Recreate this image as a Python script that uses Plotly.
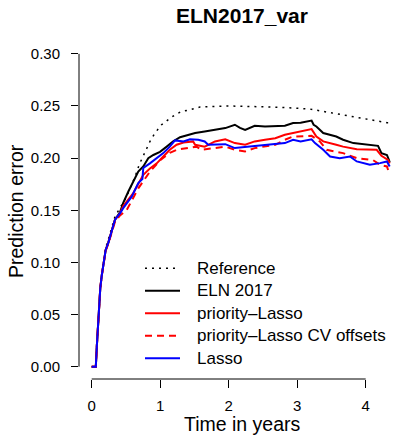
import plotly.graph_objects as go

# ---------------- data ----------------
ref_t = [0, 0.06, 0.075, 0.09, 0.107, 0.125, 0.146, 0.17, 0.204, 0.243, 0.292, 0.34, 0.41,
         0.51, 0.56, 0.632, 0.695, 0.778, 0.851, 0.924, 1.02, 1.12, 1.216, 1.31, 1.435, 1.58,
         1.97, 2.31, 2.8, 3.19, 3.53, 3.92, 4.31, 4.33]
ref_y = [0, 0, 0.02, 0.04, 0.06, 0.075, 0.088, 0.099, 0.114, 0.122, 0.134, 0.144, 0.152,
         0.163, 0.171, 0.182, 0.194, 0.206, 0.216, 0.224, 0.232, 0.237, 0.2415, 0.2447, 0.2463, 0.249,
         0.250, 0.2495, 0.2486, 0.247, 0.243, 0.238, 0.234, 0.234]

eln_t = [0, 0.06, 0.075, 0.09, 0.107, 0.125, 0.146, 0.17, 0.204, 0.243, 0.292, 0.34, 0.413,
         0.46, 0.535, 0.607, 0.68, 0.753, 0.826, 0.9, 0.997, 1.095, 1.19, 1.29, 1.435, 1.51,
         1.65, 1.8, 1.95, 2.09, 2.165, 2.24, 2.38, 2.53, 2.68, 2.82, 2.94, 3.05, 3.21, 3.24,
         3.28, 3.38, 3.57, 3.67, 3.82, 4.01, 4.18, 4.23, 4.31, 4.34, 4.35]
eln_y = [0, 0, 0.02, 0.04, 0.06, 0.075, 0.087, 0.097, 0.112, 0.119, 0.131, 0.141, 0.148,
         0.157, 0.168, 0.178, 0.187, 0.192, 0.200, 0.203, 0.206, 0.211, 0.216, 0.220, 0.2224, 0.224,
         0.2255, 0.227, 0.2288, 0.232, 0.229, 0.227, 0.231, 0.2303, 0.2303, 0.231, 0.2336, 0.234, 0.236, 0.232,
         0.2303, 0.224, 0.2207, 0.2176, 0.2144, 0.2128, 0.2118, 0.2048, 0.203, 0.198, 0.196]

plasso_t = [0, 0.06, 0.075, 0.09, 0.107, 0.125, 0.146, 0.17, 0.204, 0.243, 0.292, 0.34, 0.413,
            0.46, 0.607, 0.68, 0.753, 0.85, 0.95, 1.045, 1.14, 1.24, 1.34, 1.48, 1.51, 1.65,
            1.8, 1.95, 2.09, 2.24, 2.38, 2.53, 2.68, 2.82, 2.94, 3.05, 3.21, 3.28, 3.38, 3.57,
            3.67, 3.87, 4.16, 4.23, 4.33, 4.35]
plasso_y = [0, 0, 0.02, 0.04, 0.06, 0.075, 0.087, 0.097, 0.112, 0.119, 0.131, 0.141, 0.147,
            0.154, 0.1665, 0.176, 0.184, 0.190, 0.195, 0.2016, 0.208, 0.2128, 0.215, 0.216, 0.2128, 0.211,
            0.216, 0.218, 0.2144, 0.2128, 0.216, 0.2176, 0.219, 0.2224, 0.224, 0.225, 0.2278, 0.2207, 0.216, 0.2128,
            0.211, 0.2086, 0.208, 0.2022, 0.198, 0.195]

plcv_t = [0, 0.06, 0.075, 0.09, 0.107, 0.125, 0.146, 0.17, 0.204, 0.243, 0.292, 0.34, 0.413,
          0.51, 0.68, 0.85, 1.0, 1.14, 1.24, 1.39, 1.53, 1.6, 1.8, 1.95, 2.09, 2.24, 2.38,
          2.53, 2.68, 2.82, 2.94, 3.21, 3.33, 3.43, 3.57, 3.67, 3.87, 4.11, 4.21, 4.31, 4.35]
plcv_y = [0, 0, 0.02, 0.04, 0.06, 0.075, 0.087, 0.097, 0.111, 0.118, 0.130, 0.139, 0.145,
          0.150, 0.171, 0.187, 0.198, 0.205, 0.208, 0.2096, 0.211, 0.208, 0.2096, 0.211, 0.208, 0.2064, 0.2096,
          0.211, 0.2128, 0.2176, 0.2207, 0.2214, 0.216, 0.208, 0.2064, 0.2048, 0.200, 0.198, 0.1936, 0.192, 0.184]

lasso_t = [0, 0.06, 0.075, 0.09, 0.107, 0.125, 0.146, 0.17, 0.204, 0.243, 0.292, 0.34, 0.413,
           0.46, 0.584, 0.68, 0.74, 0.753, 0.85, 0.95, 1.045, 1.14, 1.216, 1.34, 1.435, 1.556,
           1.65, 1.70, 1.95, 2.09, 2.24, 2.48, 2.68, 2.82, 2.94, 3.05, 3.21, 3.26, 3.38, 3.48,
           3.62, 3.77, 3.87, 4.06, 4.21, 4.31, 4.35]
lasso_y = [0, 0, 0.02, 0.04, 0.06, 0.075, 0.087, 0.097, 0.112, 0.119, 0.131, 0.141, 0.147,
           0.152, 0.163, 0.176, 0.180, 0.1905, 0.195, 0.200, 0.2048, 0.211, 0.217, 0.216, 0.218, 0.2176,
           0.216, 0.2128, 0.2134, 0.2096, 0.2106, 0.2128, 0.2137, 0.2144, 0.2176, 0.216, 0.218, 0.2144, 0.208, 0.2016,
           0.200, 0.2016, 0.1968, 0.1936, 0.1952, 0.1968, 0.192]

series_names = ["Reference", "ELN 2017", "priority\u2013Lasso", "priority\u2013Lasso CV offsets", "Lasso"]
x_ticks = [0, 1, 2, 3, 4]
y_ticks = [0.00, 0.05, 0.10, 0.15, 0.20, 0.25, 0.30]

# ---------------- styling ----------------
FONT = "Liberation Sans, Arial, Helvetica, sans-serif"
W, H = 398, 436
ML, MR, MT, MB = 79, 0, 41, 57
PW, PH = W - ML - MR, H - MT - MB

styles = [
    dict(color="black", width=1.5, dash="2px,5px"),
    dict(color="black", width=2, dash="solid"),
    dict(color="#ff0000", width=2, dash="solid"),
    dict(color="#ff0000", width=2, dash="7px,5px"),
    dict(color="#0000ff", width=2, dash="solid"),
]
data = [(ref_t, ref_y), (eln_t, eln_y), (plasso_t, plasso_y), (plcv_t, plcv_y), (lasso_t, lasso_y)]

fig = go.Figure()
for (t, y), name, st in zip(data, series_names, styles):
    fig.add_trace(go.Scatter(x=t, y=y, mode="lines", name=name, line=st, showlegend=False))


def px_x(px):
    return (px - ML) / PW


def px_y(py):
    return (H - MB - py) / PH


# manual R-style legend (no box)
leg_y0, leg_dy = 268.3, 22.5
shapes = []
annotations = []
for i, (name, st) in enumerate(zip(series_names, styles)):
    yy = px_y(leg_y0 + i * leg_dy)
    shapes.append(dict(type="line", xref="paper", yref="paper", x0=px_x(145), x1=px_x(180),
                       y0=yy, y1=yy, line=st))
    annotations.append(dict(text=name, xref="paper", yref="paper", x=px_x(195), y=yy,
                            xanchor="left", yanchor="middle", showarrow=False,
                            font=dict(family=FONT, size=17, color="black")))

# R-style axis lines spanning only the tick range
shapes.append(dict(type="line", xref="x", yref="paper", x0=x_ticks[0], x1=x_ticks[-1], y0=0, y1=0,
                   line=dict(color="black", width=1)))
shapes.append(dict(type="line", xref="paper", yref="y", x0=0, x1=0, y0=y_ticks[0], y1=y_ticks[-1],
                   line=dict(color="black", width=1)))

# axis titles
annotations.append(dict(text="Time in years", xref="paper", yref="paper", x=px_x(242), y=px_y(424),
                        xanchor="center", yanchor="middle", showarrow=False,
                        font=dict(family=FONT, size=19.5, color="black")))
annotations.append(dict(text="Prediction error", xref="paper", yref="paper", x=px_x(16), y=px_y(211),
                        xanchor="center", yanchor="middle", showarrow=False, textangle=-90,
                        font=dict(family=FONT, size=19.5, color="black")))

fig.update_layout(
    width=W, height=H,
    margin=dict(l=ML, r=MR, t=MT, b=MB, autoexpand=False),
    paper_bgcolor="white", plot_bgcolor="white",
    title=dict(text="<b>ELN2017_var</b>", x=242 / W, xref="container", xanchor="center",
               y=1 - 16 / H, yref="container", yanchor="middle",
               font=dict(family=FONT, size=21, color="black")),
    font=dict(family=FONT, color="black"),
    shapes=shapes,
    annotations=annotations,
    showlegend=False,
)
fig.update_xaxes(range=[(ML - 91.7) / 68.5, (W - 91.7) / 68.5], tickvals=x_ticks,
                 ticktext=[str(v) for v in x_ticks], ticks="outside", ticklen=8, tickwidth=1,
                 tickcolor="black", showline=False, showgrid=False, zeroline=False,
                 tickfont=dict(family=FONT, size=15, color="black"), ticklabelstandoff=5)
fig.update_yaxes(range=[-0.0118, 0.3123], tickvals=y_ticks,
                 ticktext=[f"{v:.2f}" for v in y_ticks], ticks="outside", ticklen=7, tickwidth=1,
                 tickcolor="black", showline=False, showgrid=False, zeroline=False,
                 tickfont=dict(family=FONT, size=15, color="black"), ticklabelstandoff=8)

fig.write_html("out.html", config={"displayModeBar": False, "staticPlot": True},
               post_script="document.body.style.margin='0';document.body.style.padding='0';")
